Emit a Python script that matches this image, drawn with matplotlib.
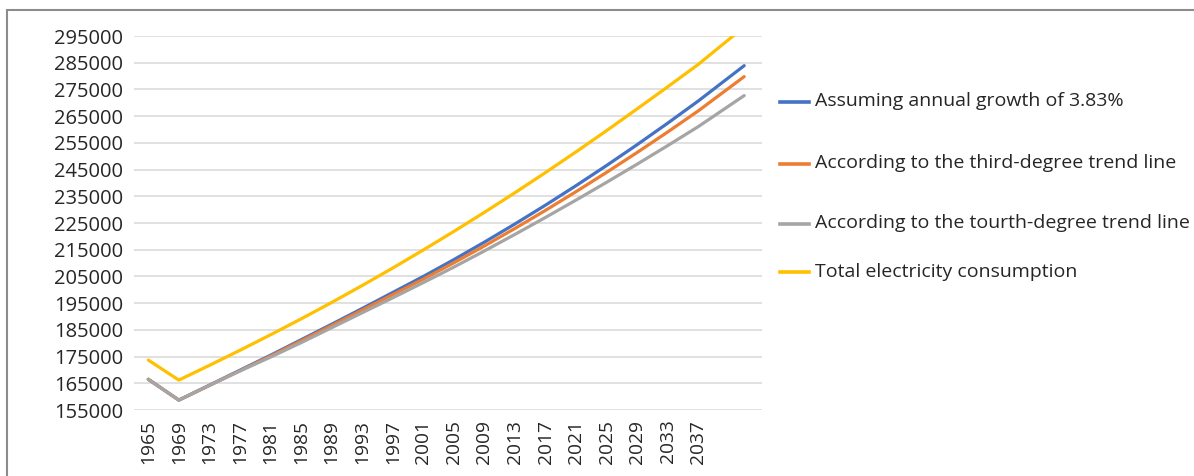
import matplotlib.pyplot as plt
from matplotlib.lines import Line2D
from matplotlib.patches import Rectangle

plt.rcParams['font.family'] = ['Open Sans', 'DejaVu Sans']

years = [1965, 1969, 1973, 1977, 1981, 1985, 1989, 1993, 1997, 2001,
         2005, 2009, 2013, 2017, 2021, 2025, 2029, 2033, 2037, 2043]

growth_383 = [166500, 158700, 164300, 169900, 175500, 181300, 187100, 193000, 199000, 205000,
              211300, 217850, 224650, 231700, 239000, 246550, 254350, 262400, 270700, 283900]
trend_third = [166500, 158700, 164200, 169700, 175200, 180900, 186600, 192400, 198200, 204000,
               210100, 216425, 222975, 229750, 236750, 243975, 251425, 259100, 267000, 279800]
trend_fourth = [166500, 158700, 164200, 169600, 174800, 180200, 185800, 191400, 197000, 202700,
                208500, 214550, 220750, 227100, 233600, 240250, 247050, 254000, 261100, 272700]
total_consumption = [173700, 166200, 171700, 177350, 183150, 189100, 195250, 201600, 208150, 214900,
                     221850, 229000, 236350, 243900, 251650, 259600, 267750, 276000, 284400, 298400]

tick_years = list(range(1965, 2038, 4))
y_ticks = list(range(155000, 295001, 10000))

labels = ["Assuming annual growth of 3.83%",
          "According to the third-degree trend line",
          "According to the tourth-degree trend line",
          "Total electricity consumption"]
colors = ["#4472C4", "#ED7D31", "#A5A5A5", "#FFC000"]
series = [growth_383, trend_third, trend_fourth, total_consumption]

W, H = 1194, 476
fig = plt.figure(figsize=(W / 100, H / 100), dpi=100)
ax = fig.add_axes([134 / W, 1 - 410 / H, (762 - 134) / W, (410 - 36) / H])

for vals, c, lab in zip(series, colors, labels):
    ax.plot(years, vals, color=c, lw=2.3, label=lab, solid_capstyle='round')

ax.set_xlim(1963.13, 2045.33)
ax.set_ylim(155000, 295000)
ax.set_yticks(y_ticks)
ax.set_yticklabels([str(v) for v in y_ticks])
ax.set_xticks(tick_years)
ax.set_xticklabels([str(y) for y in tick_years], rotation=90)
ax.tick_params(axis='both', length=0, colors='#262626')
ax.tick_params(axis='y', pad=8, labelsize=14.5)
ax.tick_params(axis='x', pad=7, labelsize=13.8)
ax.grid(axis='y', color='#d9d9d9', lw=1.1)
ax.set_axisbelow(True)
for s in ax.spines.values():
    s.set_visible(False)

# legend drawn entry by entry on the right
legend_rows = [101.5, 163.5, 223.5, 272]
for ypix, c, lab in zip(legend_rows, colors, labels):
    yf = 1 - ypix / H
    fig.add_artist(Line2D([780 / W, 809 / W], [yf, yf], color=c, lw=2.6))
    fig.text(815 / W, yf, lab, va='center', ha='left', fontsize=14, color='#262626')

# outer chart border
fig.add_artist(Rectangle((7 / W, -0.2), 1.5, 1.2 - 10 / H, fill=False,
                         edgecolor='#8c8c8c', lw=1.5, transform=fig.transFigure))

fig.savefig("out.png", dpi=100)
